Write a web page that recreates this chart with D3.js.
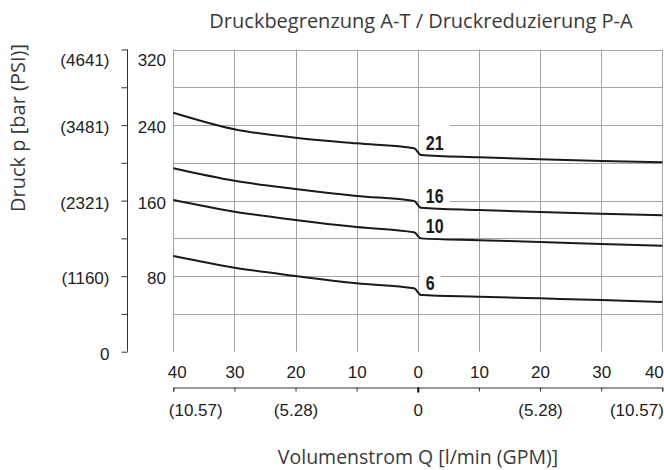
<!DOCTYPE html>
<html>
<head>
<meta charset="utf-8">
<script src="https://cdn.jsdelivr.net/npm/d3@7"></script>
<style>
  body { margin: 0; background: #fff; }
  svg { display: block; }
  .tick text { font-family: "Liberation Sans", Arial, sans-serif; font-size: 17px; fill: #222; }
  .ttl { font-family: "Open Sans", "Noto Sans", sans-serif; fill: #3a3a3a; }
</style>
</head>
<body>
<div id="chart"></div>
<script>
// flow Q in l/min: negative = A-T side (left half), positive = P-A side (right half)
var flowQ = [-40, -30, -20, -10, -0.6, 0.5, 10, 20, 30, 40];

// pressure p [bar] per curve
var p21 = [253, 235.5, 226.6, 220.6, 215.4, 208.3, 205.8, 203.7, 201.9, 200.5];
var p16 = [194.2, 181, 172.3, 164.9, 159.6, 152.5, 150, 147.9, 146.1, 144.4];
var p10 = [160.6, 148.3, 139.5, 132, 126.4, 120, 118, 116.2, 114, 112.3];
var p6 = [101.3, 89, 80.2, 72.4, 67.1, 60, 58.3, 56.5, 54.7, 52.6];
var curveNames = ["21", "16", "10", "6"];

var barTicks = [0, 40, 80, 120, 160, 200, 240, 280, 320];
var barLabelValues = [320, 240, 160, 80];
var psiLabelValues = [320, 240, 160, 80, 0];
var psiLabels = ["(4641)", "(3481)", "(2321)", "(1160)", "0"];

var flowTicks = [-40, -30, -20, -10, 0, 10, 20, 30, 40];
var gpmLabelValues = [-40, -20, 0, 20, 40];
var gpmLabels = ["(10.57)", "(5.28)", "0", "(5.28)", "(10.57)"];

var W = 664, H = 470;
var svg = d3.select("#chart").append("svg")
    .attr("width", W)
    .attr("height", H);

var x = d3.scaleLinear().domain([-40, 40]).range([173.3, 662.3]);
var y = d3.scaleLinear().domain([0, 320]).range([351.7, 49.5]);

// grid
var grid = svg.append("g")
    .attr("stroke", "#a3a3a3")
    .attr("stroke-width", 1);

grid.selectAll("line.v")
    .data(flowTicks)
    .enter().append("line")
    .attr("class", "v")
    .attr("x1", function(d) { return Math.round(x(d)) + 0.5; })
    .attr("x2", function(d) { return Math.round(x(d)) + 0.5; })
    .attr("y1", y(320))
    .attr("y2", y(0));

grid.selectAll("line.h")
    .data(barTicks.filter(function(d) { return d > 0; }))
    .enter().append("line")
    .attr("class", "h")
    .attr("x1", x(-40))
    .attr("x2", x(40))
    .attr("y1", function(d) { return Math.round(y(d)) + 0.5; })
    .attr("y2", function(d) { return Math.round(y(d)) + 0.5; });

// left axis: psi labels left of ticks
var psiAxis = svg.append("g")
    .attr("transform", "translate(127.5,0)")
    .call(d3.axisLeft(y)
        .tickValues(barTicks)
        .tickSize(6)
        .tickPadding(12)
        .tickFormat(function(d) {
            var i = psiLabelValues.indexOf(d);
            return i < 0 ? "" : psiLabels[i];
        }));
psiAxis.select(".domain").attr("stroke", "#333").attr("d", "M0," + y(320) + "V" + y(0));
psiAxis.selectAll(".tick line").attr("stroke", "#333");
psiAxis.selectAll(".tick text").attr("dy", function(d) { return d === 320 ? "0.95em" : "0.45em"; });

// bar labels between axis and plot
var barAxis = svg.append("g")
    .attr("transform", "translate(166,0)")
    .call(d3.axisLeft(y)
        .tickValues(barLabelValues)
        .tickSize(0)
        .tickPadding(0));
barAxis.select(".domain").remove();
barAxis.selectAll(".tick text").attr("dy", function(d) { return d === 320 ? "0.95em" : "0.45em"; });

// bottom axis
var axisY = 387.5;
var topLab = svg.append("g")
    .attr("transform", "translate(0," + axisY + ")")
    .call(d3.axisTop(x)
        .tickValues(flowTicks)
        .tickSize(0)
        .tickPadding(10)
        .tickFormat(function(d) { return Math.abs(d); }));
topLab.select(".domain").remove();
topLab.selectAll(".tick text")
    .attr("text-anchor", function(d) { return d === -40 ? "start" : d === 40 ? "end" : "middle"; })
    .attr("dx", function(d) { return d === -40 ? -6 : d === 40 ? 1 : 0; });

var botAxis = svg.append("g")
    .attr("transform", "translate(0," + axisY + ")")
    .call(d3.axisBottom(x)
        .tickValues(flowTicks)
        .tickSize(4)
        .tickPadding(12)
        .tickFormat(function(d) {
            var i = gpmLabelValues.indexOf(d);
            return i < 0 ? "" : gpmLabels[i];
        }));
botAxis.select(".domain").attr("stroke", "#333");
botAxis.selectAll(".tick line").attr("stroke", "#333");
botAxis.selectAll(".tick")
    .filter(function(d) { return d === 0; })
    .select("line")
    .attr("stroke", "#000")
    .attr("stroke-width", 2)
    .attr("y2", 5);
botAxis.selectAll(".tick text")
    .attr("text-anchor", function(d) { return d === -40 ? "start" : d === 40 ? "end" : "middle"; })
    .attr("dx", function(d) { return d === -40 ? -5 : d === 40 ? 1 : 0; });

// curves
var series = [p21, p16, p10, p6];
var line = d3.line()
    .curve(d3.curveMonotoneX)
    .x(function(d, i) { return x(flowQ[i]); })
    .y(function(d) { return y(d); });

var after = flowQ.indexOf(0.5);

// label backgrounds hide the grid behind the numbers
var labs = svg.append("g")
    .selectAll("g")
    .data(series)
    .enter().append("g")
    .attr("transform", function(d) {
        return "translate(" + (x(0) + 8) + "," + (y(d[after]) - 5) + ")";
    });

labs.append("text")
    .attr("font-family", "'Liberation Sans', Arial, sans-serif")
    .attr("font-weight", "bold")
    .attr("font-size", 20)
    .attr("transform", "scale(0.8,1)")   // condensed look
    .attr("fill", "#1a1a1a")
    .text(function(d, i) { return curveNames[i]; })
    .each(function() {
        var b = this.getBBox();
        d3.select(this.parentNode).insert("rect", "text")
            .attr("x", b.x * 0.8 - 6)
            .attr("y", -26)
            .attr("width", b.width * 0.8 + 12)
            .attr("height", 27)
            .attr("fill", "#fff");
    });

svg.append("g")
    .selectAll("path")
    .data(series)
    .enter().append("path")
    .attr("fill", "none")
    .attr("stroke", "#1a1a1a")
    .attr("stroke-width", 2)
    .attr("stroke-linejoin", "round")
    .attr("d", line);

// titles
svg.append("text")
    .attr("class", "ttl")
    .attr("x", 421)
    .attr("y", 28)
    .attr("text-anchor", "middle")
    .attr("font-size", 20)
    .text("Druckbegrenzung A-T / Druckreduzierung P-A");

svg.append("text")
    .attr("class", "ttl")
    .attr("x", 418)
    .attr("y", 464)
    .attr("text-anchor", "middle")
    .attr("font-size", 19.5)
    .text("Volumenstrom Q [l/min (GPM)]");

svg.append("text")
    .attr("class", "ttl")
    .attr("transform", "translate(25,128) rotate(-90)")
    .attr("text-anchor", "middle")
    .attr("font-size", 20)
    .text("Druck p [bar (PSI)]");
</script>
</body>
</html>
